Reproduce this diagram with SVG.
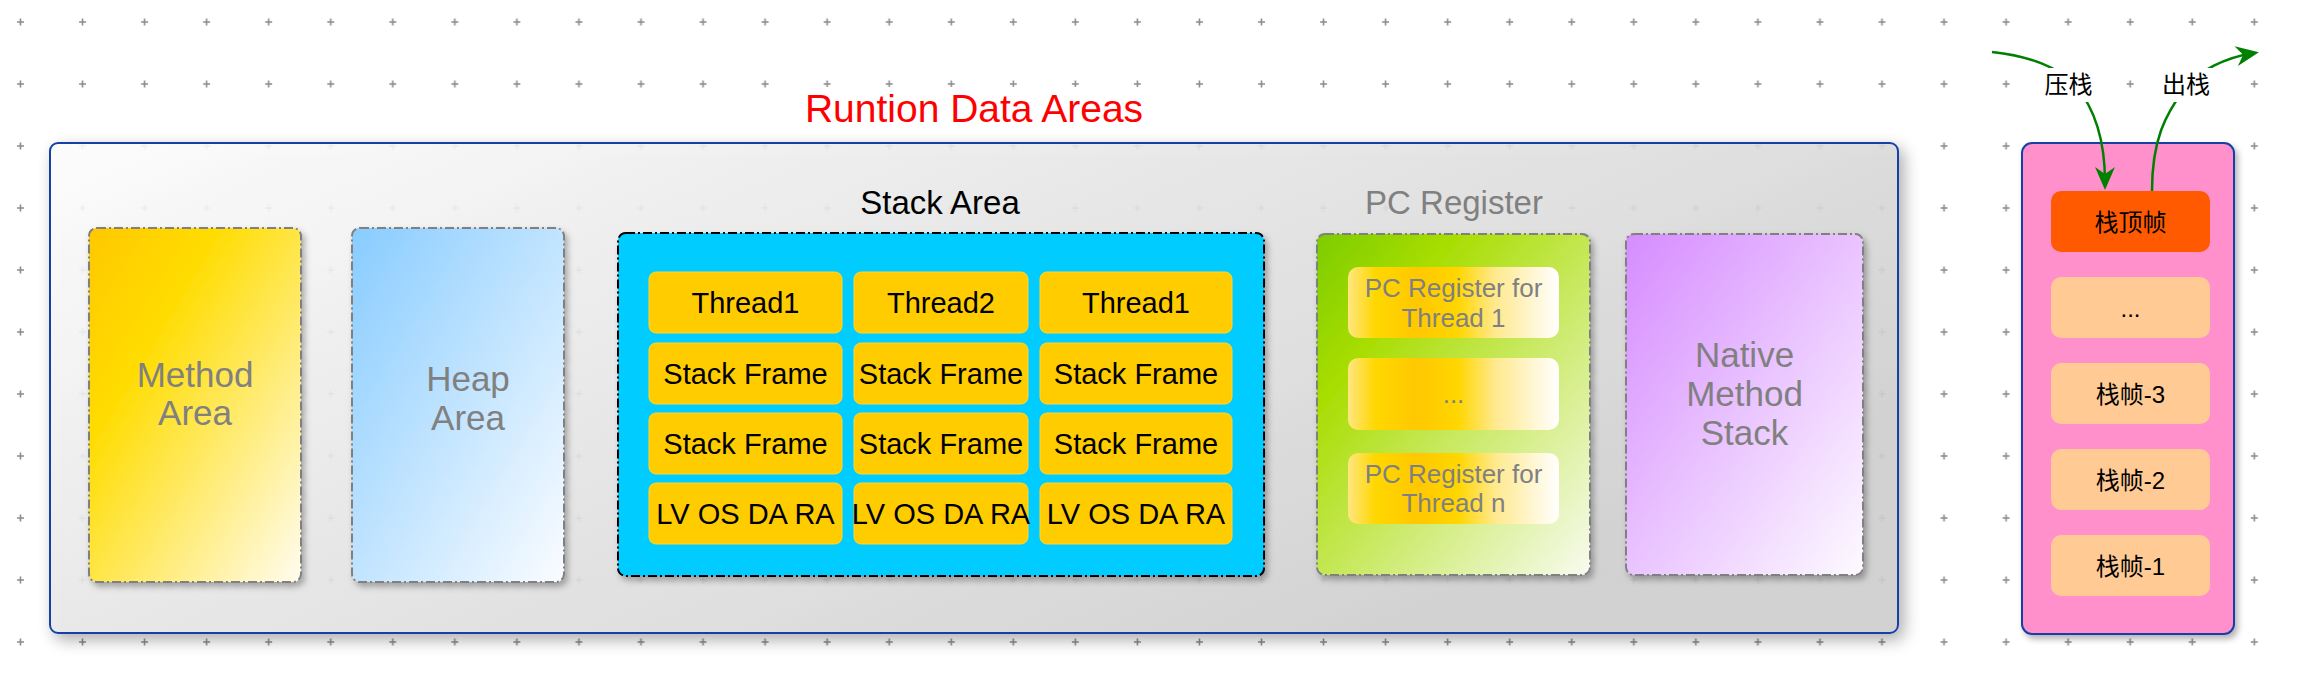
<svg xmlns="http://www.w3.org/2000/svg" width="2312" height="674" viewBox="0 0 2312 674">
<defs>
<style>
.lbl{font-family:"Liberation Sans",Arial,sans-serif;text-anchor:middle}
.big{font-size:35px;fill:#808080}
.cell{fill:#FFCC00;stroke:#FFD633;stroke-width:1}
.celltxt{font-size:29px;fill:#000}
.pcin{fill:url(#gPcIn)}
.pctxt{font-size:26px;fill:#808080}
.area{stroke:#808080;stroke-width:2;stroke-dasharray:9 3 2 3}
.frame{fill:#FFCA94}
.cjk{font-family:"Liberation Sans","Noto Sans CJK SC",sans-serif;font-size:24px;fill:#000;text-anchor:middle}
.conn{fill:none;stroke:#008000;stroke-width:2.5}
</style>
<pattern id="grid" patternUnits="userSpaceOnUse" x="-10.5" y="-9" width="62.05" height="62">
<path d="M27.5 31H34.5M31 27.5V34.5" stroke="#8c8c8c" stroke-width="1.6"/>
</pattern>
<linearGradient id="gMain" x1="0" y1="0" x2="1" y2="0.6">
<stop offset="0" stop-color="#fcfcfc"/><stop offset="1" stop-color="#cdcdcd"/>
</linearGradient>
<linearGradient id="gMethod" x1="0" y1="0" x2="1" y2="1">
<stop offset="0" stop-color="#FFC800"/><stop offset="0.3" stop-color="#FFDC00"/><stop offset="1" stop-color="#FFFCF0"/>
</linearGradient>
<linearGradient id="gHeap" x1="0" y1="0" x2="1" y2="1">
<stop offset="0" stop-color="#88CCFF"/><stop offset="1" stop-color="#FAFCFF"/>
</linearGradient>
<linearGradient id="gPc" x1="0" y1="0" x2="1" y2="1">
<stop offset="0" stop-color="#7DCC00"/><stop offset="0.25" stop-color="#A8DD00"/><stop offset="1" stop-color="#F8FBF0"/>
</linearGradient>
<linearGradient id="gNative" x1="0" y1="0" x2="1" y2="1">
<stop offset="0" stop-color="#D68CFF"/><stop offset="1" stop-color="#FDFAFF"/>
</linearGradient>
<linearGradient id="gPcIn" x1="0" y1="0" x2="1" y2="0">
<stop offset="0" stop-color="#FFE680"/><stop offset="0.13" stop-color="#FFD700"/><stop offset="0.33" stop-color="#FFC800"/><stop offset="0.52" stop-color="#FFD600"/><stop offset="0.7" stop-color="#FFE98F"/><stop offset="1" stop-color="#FFFFFF"/>
</linearGradient>
<filter id="shBig" x="-5%" y="-10%" width="110%" height="125%">
<feGaussianBlur in="SourceAlpha" stdDeviation="8"/>
<feOffset dx="5" dy="6" result="b"/>
<feComposite in="b" in2="SourceAlpha" operator="out" result="o"/>
<feComponentTransfer in="o" result="s"><feFuncA type="linear" slope="0.35"/></feComponentTransfer>
<feMerge><feMergeNode in="s"/><feMergeNode in="SourceGraphic"/></feMerge>
</filter>
<filter id="sh" x="-10%" y="-10%" width="125%" height="125%">
<feDropShadow dx="3" dy="4" stdDeviation="3" flood-color="#000" flood-opacity="0.3"/>
</filter>
<marker id="arr" markerUnits="userSpaceOnUse" markerWidth="34" markerHeight="30" viewBox="-26 -15 34 30" refX="-8" refY="0" orient="auto">
<path d="M0 0L-23 -10L-16 0L-23 10Z" fill="#008000"/>
</marker>
</defs>
<rect width="2312" height="674" fill="#fff"/>
<rect width="2312" height="674" fill="url(#grid)"/>

<g id="runtime-data-areas">
<rect x="50" y="143" width="1848" height="490" rx="8" fill="url(#gMain)" fill-opacity="0.9" stroke="#1840A8" stroke-width="2" filter="url(#shBig)"/>
</g>
<g id="title">
<rect x="796" y="87" width="356" height="47" fill="#fff"/>
<text class="lbl" x="974" y="122" font-size="39" fill="#FF0000">Runtion Data Areas</text>
</g>

<g id="method-area">
<rect class="area" x="89" y="228" width="212" height="354" rx="8" fill="url(#gMethod)" filter="url(#sh)"/>
<text class="lbl big" x="195" y="387">Method</text>
<text class="lbl big" x="195" y="425">Area</text>
</g>

<g id="heap-area">
<rect class="area" x="352" y="228" width="212" height="354" rx="8" fill="url(#gHeap)" filter="url(#sh)"/>
<text class="lbl big" x="468" y="391">Heap</text>
<text class="lbl big" x="468" y="430">Area</text>
</g>

<g id="stack-area">
<text class="lbl" x="940" y="214" font-size="33" fill="#000">Stack Area</text>
<rect x="618" y="233" width="646" height="343" rx="8" fill="#00CCFF" stroke="#000" stroke-width="2" stroke-dasharray="9 3 2 3" filter="url(#sh)"/>
<g id="stack-cells">
<rect class="cell" x="649" y="272" width="193" height="61" rx="7"/>
<rect class="cell" x="854" y="272" width="174" height="61" rx="7"/>
<rect class="cell" x="1040" y="272" width="192" height="61" rx="7"/>
<rect class="cell" x="649" y="343" width="193" height="61" rx="7"/>
<rect class="cell" x="854" y="343" width="174" height="61" rx="7"/>
<rect class="cell" x="1040" y="343" width="192" height="61" rx="7"/>
<rect class="cell" x="649" y="413" width="193" height="61" rx="7"/>
<rect class="cell" x="854" y="413" width="174" height="61" rx="7"/>
<rect class="cell" x="1040" y="413" width="192" height="61" rx="7"/>
<rect class="cell" x="649" y="483" width="193" height="61" rx="7"/>
<rect class="cell" x="854" y="483" width="174" height="61" rx="7"/>
<rect class="cell" x="1040" y="483" width="192" height="61" rx="7"/>
<text class="lbl celltxt" x="745.5" y="313">Thread1</text>
<text class="lbl celltxt" x="941" y="313">Thread2</text>
<text class="lbl celltxt" x="1136" y="313">Thread1</text>
<text class="lbl celltxt" x="745.5" y="384">Stack Frame</text>
<text class="lbl celltxt" x="941" y="384">Stack Frame</text>
<text class="lbl celltxt" x="1136" y="384">Stack Frame</text>
<text class="lbl celltxt" x="745.5" y="454">Stack Frame</text>
<text class="lbl celltxt" x="941" y="454">Stack Frame</text>
<text class="lbl celltxt" x="1136" y="454">Stack Frame</text>
<text class="lbl celltxt" x="745.5" y="524">LV OS DA RA</text>
<text class="lbl celltxt" x="941" y="524">LV OS DA RA</text>
<text class="lbl celltxt" x="1136" y="524">LV OS DA RA</text>
</g>
</g>

<g id="pc-register">
<text class="lbl" x="1454" y="214" font-size="33" fill="#808080">PC Register</text>
<rect class="area" x="1317" y="234" width="273" height="341" rx="8" fill="url(#gPc)" filter="url(#sh)"/>
<rect class="pcin" x="1348" y="267" width="211" height="71" rx="10"/>
<rect class="pcin" x="1348" y="358" width="211" height="72" rx="10"/>
<rect class="pcin" x="1348" y="453" width="211" height="71" rx="10"/>
<text class="lbl pctxt" x="1453.5" y="297">PC Register for</text>
<text class="lbl pctxt" x="1453.5" y="327">Thread 1</text>
<text class="lbl pctxt" x="1453.5" y="403">...</text>
<text class="lbl pctxt" x="1453.5" y="483">PC Register for</text>
<text class="lbl pctxt" x="1453.5" y="512">Thread n</text>
</g>

<g id="native-method-stack">
<rect class="area" x="1626" y="234" width="237" height="341" rx="8" fill="url(#gNative)" filter="url(#sh)"/>
<text class="lbl big" x="1744.5" y="367">Native</text>
<text class="lbl big" x="1744.5" y="406">Method</text>
<text class="lbl big" x="1744.5" y="445">Stack</text>
</g>

<g id="frame-stack">
<rect x="2022" y="143" width="212" height="491" rx="10" fill="#FF90CC" stroke="#1840A8" stroke-width="2" filter="url(#sh)"/>
<rect x="2051" y="191" width="159" height="61" rx="10" fill="#FF5A00"/>
<rect class="frame" x="2051" y="277" width="159" height="61" rx="10"/>
<rect class="frame" x="2051" y="363" width="159" height="61" rx="10"/>
<rect class="frame" x="2051" y="449" width="159" height="61" rx="10"/>
<rect class="frame" x="2051" y="535" width="159" height="61" rx="10"/>
<text class="cjk" x="2130.5" y="230.5">栈顶帧</text>
<text class="cjk" x="2130.5" y="316.5">...</text>
<text class="cjk" x="2130.5" y="402.5">栈帧-3</text>
<text class="cjk" x="2130.5" y="488.5">栈帧-2</text>
<text class="cjk" x="2130.5" y="574.5">栈帧-1</text>
</g>

<g id="connectors">
<path class="conn" d="M1992 52C2030 56 2060 68 2075 85C2092 105 2105 135 2105 182" marker-end="url(#arr)"/>
<path class="conn" d="M2152 191C2152 140 2165 115 2185 88C2200 70 2225 58 2251 53.5" marker-end="url(#arr)"/>
<rect x="2040" y="68" width="57" height="34" fill="#fff"/>
<rect x="2158" y="68" width="57" height="34" fill="#fff"/>
<text class="cjk" x="2068.5" y="93">压栈</text>
<text class="cjk" x="2186" y="93">出栈</text>
</g>
</svg>
